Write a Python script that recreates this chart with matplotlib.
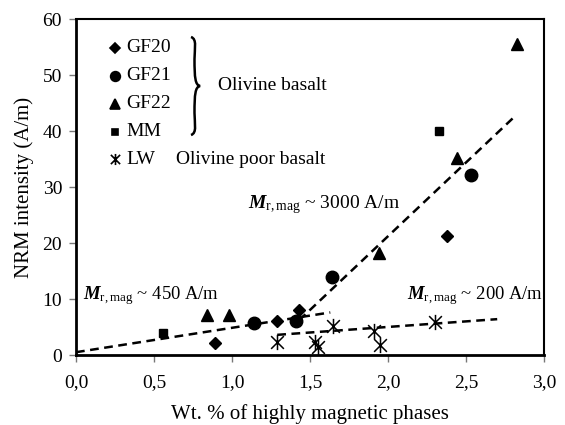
import matplotlib
matplotlib.use("Agg")
import matplotlib.pyplot as plt
from matplotlib.path import Path
from matplotlib.patches import PathPatch
from matplotlib.ticker import FuncFormatter

plt.rcParams['font.family'] = ['Liberation Serif', 'DejaVu Serif']
plt.rcParams['mathtext.fontset'] = 'custom'
plt.rcParams['mathtext.rm'] = 'Liberation Serif'
plt.rcParams['mathtext.it'] = 'Liberation Serif:italic:bold'
plt.rcParams['mathtext.bf'] = 'Liberation Serif:bold'

# ---- data ----
gf20_x = [0.89, 1.29, 1.43, 2.38]
gf20_y = [2.2, 6.0, 8.0, 21.2]
gf21_x = [1.14, 1.41, 1.64, 2.53]
gf21_y = [5.8, 6.0, 13.9, 32.1]
gf22_x = [0.84, 0.98, 1.94, 2.44, 2.83]
gf22_y = [7.1, 7.1, 18.3, 35.2, 55.6]
mm_x = [0.56, 2.33]
mm_y = [4.0, 40.0]
lw_x = [1.29, 1.53, 1.55, 1.65, 1.91, 1.95, 2.30]
lw_y = [2.3, 2.4, 1.5, 5.2, 4.2, 1.8, 5.9]

fit450_x = [0.0, 1.63]
fit450_y = [0.5, 7.6]
fit3000_x = [1.43, 2.82]
fit3000_y = [6.2, 42.8]
fit200_x = [1.29, 2.70]
fit200_y = [3.6, 6.4]

x_ticks = [0.0, 0.5, 1.0, 1.5, 2.0, 2.5, 3.0]
y_ticks = [0, 10, 20, 30, 40, 50, 60]

# X with a vertical bar marker
star = Path([(-1, -1), (1, 1), (-1, 1), (1, -1), (0, -1.2), (0, 1.2)],
            [Path.MOVETO, Path.LINETO, Path.MOVETO, Path.LINETO, Path.MOVETO, Path.LINETO])

fig = plt.figure(figsize=(5.65, 4.25), dpi=100)
ax = fig.add_axes([76/565, 1 - 355/425, (544-76)/565, (355-19)/425])

ms = 7
ax.plot(gf20_x, gf20_y, 'D', color='black', ms=ms-1, ls='none')
ax.plot(gf21_x, gf21_y, 'o', color='black', ms=ms+2, ls='none')
ax.plot(gf22_x, gf22_y, '^', color='black', ms=ms+2, ls='none')
ax.plot(mm_x, mm_y, 's', color='black', ms=ms-1, ls='none')
ax.plot(lw_x, lw_y, ls='none', marker=star, color='black', ms=11, mew=1.1)

dash = dict(color='black', lw=1.8, ls=(0, (3.5, 2.2)))
ax.plot(fit450_x, fit450_y, **dash)
ax.plot(fit3000_x, fit3000_y, **dash)
ax.plot(fit200_x, fit200_y, **dash)

ax.set_xlim(0, 3.0)
ax.set_ylim(0, 60)
ax.set_xticks(x_ticks)
ax.set_yticks(y_ticks)
ax.xaxis.set_major_formatter(FuncFormatter(lambda v, p: f"{v:.1f}".replace('.', ',')))
ax.tick_params(direction='out', length=5, width=1, labelsize=14, color='#777777')
ax.tick_params(axis='x', pad=9)
ax.tick_params(axis='y', pad=5)
for s in ax.spines.values():
    s.set_linewidth(1.5)
ax.spines['left'].set_linewidth(2.0)
ax.spines['bottom'].set_linewidth(2.0)

ax.set_xlabel('Wt. % of highly magnetic phases', fontsize=15, labelpad=9)
ax.set_ylabel('NRM intensity (A/m)', fontsize=15, labelpad=6)

# annotations
ax.text(1.10, 26.8, r'$M_{\mathrm{r,mag}}$ ~ 3000 A/m', fontsize=14, va='center', ha='left')
ax.text(0.045, 10.7, r'$M_{\mathrm{r,mag}}$ ~ 450 A/m', fontsize=13.4, va='center', ha='left')
ax.text(2.12, 10.7, r'$M_{\mathrm{r,mag}}$ ~ 200 A/m', fontsize=13.4, va='center', ha='left')

# custom legend (figure pixel coords)
def fx(px):
    return px / 565
def fy(py):
    return 1 - py / 425

leg_labels = ['GF20', 'GF21', 'GF22', 'MM', 'LW']
leg_markers = ['D', 'o', '^', 's', star]
leg_sizes = [5, 7, 7, 5, 8]
leg_rows = [48, 76, 104, 132, 159]
for lab, mk, sz, ry in zip(leg_labels, leg_markers, leg_sizes, leg_rows):
    fig.add_artist(plt.Line2D([fx(115)], [fy(ry)], marker=mk, ms=sz, color='black', ls='none', mew=1.2))
    fig.text(fx(126), fy(ry), lab, fontsize=14, va='center', ha='left')

fig.text(fx(218), fy(85), 'Olivine basalt', fontsize=14, va='center', ha='left')
fig.text(fx(176), fy(159), 'Olivine poor basalt', fontsize=14, va='center', ha='left')

# curly brace
bx, top, bot = 191, 37, 135
mid = (top + bot) / 2
w = 7
verts_px = [
    (bx, top), (bx + w*0.9, top + 2), (bx + w*0.5, top + 12), (bx + w*0.5, top + 22),
    (bx + w*0.5, mid - 8), (bx + w*0.6, mid - 1), (bx + w*1.3, mid),
    (bx + w*0.6, mid + 1), (bx + w*0.5, mid + 8), (bx + w*0.5, bot - 22),
    (bx + w*0.5, bot - 12), (bx + w*0.9, bot - 2), (bx, bot),
]
codes = [Path.MOVETO, Path.CURVE4, Path.CURVE4, Path.CURVE4,
         Path.CURVE4, Path.CURVE4, Path.CURVE4,
         Path.CURVE4, Path.CURVE4, Path.CURVE4,
         Path.CURVE4, Path.CURVE4, Path.CURVE4]
verts = [(fx(a), fy(b)) for a, b in verts_px]
fig.add_artist(PathPatch(Path(verts, codes), transform=fig.transFigure,
                         fill=False, lw=1.8, edgecolor='black'))

fig.savefig('out.png', dpi=100)
